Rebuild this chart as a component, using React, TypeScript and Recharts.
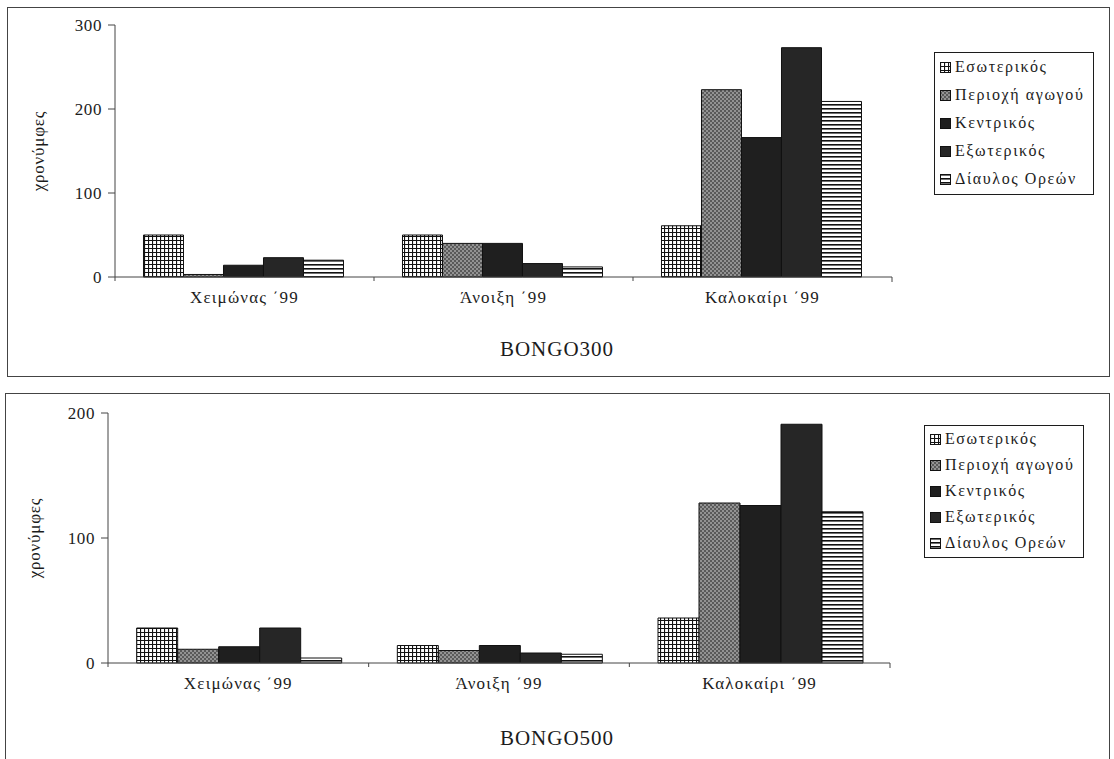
import React from 'react';
import { BarChart, Bar, XAxis, YAxis, Legend } from 'recharts';

// categories and series
const categories = ['Χειμώνας ΄99', 'Άνοιξη ΄99', 'Καλοκαίρι ΄99'];
const seriesKeys = ['eso', 'per', 'ken', 'exo', 'dia'];
const seriesNames = ['Εσωτερικός', 'Περιοχή αγωγού', 'Κεντρικός', 'Εξωτερικός', 'Δίαυλος Ορεών'];

// BONGO300
const eso300 = [50, 50, 61];
const per300 = [3, 40, 223];
const ken300 = [14, 40, 166];
const exo300 = [23, 16, 273];
const dia300 = [20, 12, 209];
const ticks300 = [0, 100, 200, 300];

// BONGO500
const eso500 = [28, 14, 36];
const per500 = [11, 10, 128];
const ken500 = [13, 14, 126];
const exo500 = [28, 8, 191];
const dia500 = [4, 7, 121];
const ticks500 = [0, 100, 200];

const FONT = '"Liberation Serif", "DejaVu Serif", serif';
const INK = '#1c1c1c';

const buildRows = (cols: number[][]) =>
  categories.map((name, i) => {
    const row: any = { name };
    seriesKeys.forEach((k, j) => (row[k] = cols[j][i]));
    return row;
  });

const rows300 = buildRows([eso300, per300, ken300, exo300, dia300]);
const rows500 = buildRows([eso500, per500, ken500, exo500, dia500]);

// svg patterns standing in for the b/w hatch fills
const Patterns = ({ p }: { p: string }) => (
  <defs>
    <pattern id={`${p}-eso`} width="4" height="4" patternUnits="userSpaceOnUse">
      <rect width="4" height="4" fill="#fff" />
      <path d="M0 0.5H4M0.5 0V4" stroke="#111" strokeWidth="1.2" />
    </pattern>
    <pattern id={`${p}-per`} width="4" height="4" patternUnits="userSpaceOnUse">
      <rect width="4" height="4" fill="#5a5a5a" />
      <circle cx="1" cy="1" r="0.8" fill="#ddd" />
      <circle cx="3" cy="3" r="0.8" fill="#ddd" />
    </pattern>
    <pattern id={`${p}-ken`} width="4" height="4" patternUnits="userSpaceOnUse">
      <rect width="4" height="4" fill="#1f1f1f" />
    </pattern>
    <pattern id={`${p}-exo`} width="4" height="4" patternUnits="userSpaceOnUse">
      <rect width="4" height="4" fill="#262626" />
    </pattern>
    <pattern id={`${p}-dia`} width="4" height="4" patternUnits="userSpaceOnUse">
      <rect width="4" height="4" fill="#fff" />
      <rect width="4" height="1.6" fill="#111" />
    </pattern>
  </defs>
);

const LegendBox = ({ p, rowH }: { p: string; rowH: number }) => (
  <div
    style={{
      border: `1px solid ${INK}`,
      background: '#fff',
      padding: '0px 9px 1px 5px',
      fontFamily: FONT,
      fontSize: 16,
      color: INK,
      letterSpacing: 1.6,
      lineHeight: `${rowH}px`,
      whiteSpace: 'nowrap',
    }}
  >
    {seriesNames.map((n, i) => (
      <div key={n} style={{ display: 'flex', alignItems: 'center' }}>
        <svg width={11} height={11} style={{ marginRight: 4 }}>
          <rect x={0.5} y={0.5} width={10} height={10} fill={`url(#${p}-${seriesKeys[i]})`} stroke="#111" />
        </svg>
        <span>{n}</span>
      </div>
    ))}
  </div>
);

const CatTick = (props: any) => {
  const { x, y, payload, index, bw } = props;
  return (
    <g>
      <line x1={x - bw / 2} x2={x - bw / 2} y1={y} y2={y + 4} stroke="#444" />
      {index === categories.length - 1 && (
        <line x1={x + bw / 2} x2={x + bw / 2} y1={y} y2={y + 5} stroke="#444" />
      )}
      <text x={x} y={y + 26} textAnchor="middle" fontFamily={FONT} fontSize={17} fill={INK} letterSpacing={1.2}>
        {payload.value}
      </text>
    </g>
  );
};

type PanelProps = {
  p: string;
  rows: any[];
  ticks: number[];
  top: number;
  height: number;
  yWidth: number;
  margin: { top: number; right: number; bottom: number; left: number };
  legendPos: { left: number; top: number };
  rowH: number;
  labelX: number;
};

const Panel = ({ p, rows, ticks, top, height, yWidth, margin, legendPos, rowH, labelX }: PanelProps) => {
  const plotW = 1114 - yWidth - margin.right;
  const bw = plotW / categories.length;
  const yMid = margin.top + (height - margin.top - margin.bottom - 30) / 2;
  return (
    <div style={{ position: 'absolute', left: 0, top, width: 1114, height }}>
      <BarChart
        width={1114}
        height={height}
        data={rows}
        margin={margin}
        barCategoryGap="11%"
        barGap={0}
      >
        <Patterns p={p} />
        <XAxis
          dataKey="name"
          height={30}
          stroke="#444"
          tickSize={0}
          tickMargin={0}
          tickLine={false}
          interval={0}
          tick={(t: any) => <CatTick {...t} bw={bw} />}
        />
        <YAxis
          width={yWidth}
          domain={[0, ticks[ticks.length - 1]]}
          ticks={ticks}
          stroke="#444"
          tickSize={7}
          tickMargin={6}
          tick={{ fontFamily: FONT, fontSize: 17, fill: INK, letterSpacing: 0.6 }}
          label={() => (
            <text
              x={labelX}
              y={yMid}
              transform={`rotate(-90 ${labelX} ${yMid})`}
              textAnchor="middle"
              dominantBaseline="middle"
              fontFamily={FONT}
              fontSize={17}
              letterSpacing={0.8}
              fill={INK}
            >
              χρονύμφες
            </text>
          )}
        />
        <Legend
          layout="horizontal"
          verticalAlign="middle"
          align="center"
          wrapperStyle={{ left: legendPos.left, top: legendPos.top, width: 'auto' }}
          content={() => <LegendBox p={p} rowH={rowH} />}
        />
        {seriesKeys.map((k, i) => (
          <Bar
            key={k}
            dataKey={k}
            name={seriesNames[i]}
            fill={`url(#${p}-${k})`}
            stroke="#111"
            strokeWidth={1}
            isAnimationActive={false}
          />
        ))}
      </BarChart>
    </div>
  );
};

export default function App() {
  return (
    <div style={{ position: 'absolute', left: 0, top: 0, width: 1114, height: 759, background: '#fff', overflow: 'hidden' }}>
      <div style={{ position: 'absolute', left: 7, top: 7, width: 1101, height: 368, border: '1px solid #444' }} />
      <div style={{ position: 'absolute', left: 5, top: 393, width: 1103, height: 380, border: '1px solid #444' }} />
      <Panel
        p="t"
        rows={rows300}
        ticks={ticks300}
        top={0}
        height={380}
        yWidth={115}
        margin={{ top: 25, right: 222, bottom: 73, left: 0 }}
        legendPos={{ left: 934, top: 52 }}
        rowH={28}
        labelX={40}
      />
      <Panel
        p="b"
        rows={rows500}
        ticks={ticks500}
        top={380}
        height={379}
        yWidth={108}
        margin={{ top: 33, right: 224, bottom: 66, left: 0 }}
        legendPos={{ left: 924, top: 45 }}
        rowH={26}
        labelX={36}
      />
      <div style={{ position: 'absolute', left: 0, width: 1114, top: 337, textAlign: 'center', fontFamily: FONT, fontSize: 21, color: INK, letterSpacing: 1 }}>
        BONGO300
      </div>
      <div style={{ position: 'absolute', left: 0, width: 1114, top: 726, textAlign: 'center', fontFamily: FONT, fontSize: 21, color: INK, letterSpacing: 1 }}>
        BONGO500
      </div>
    </div>
  );
}
